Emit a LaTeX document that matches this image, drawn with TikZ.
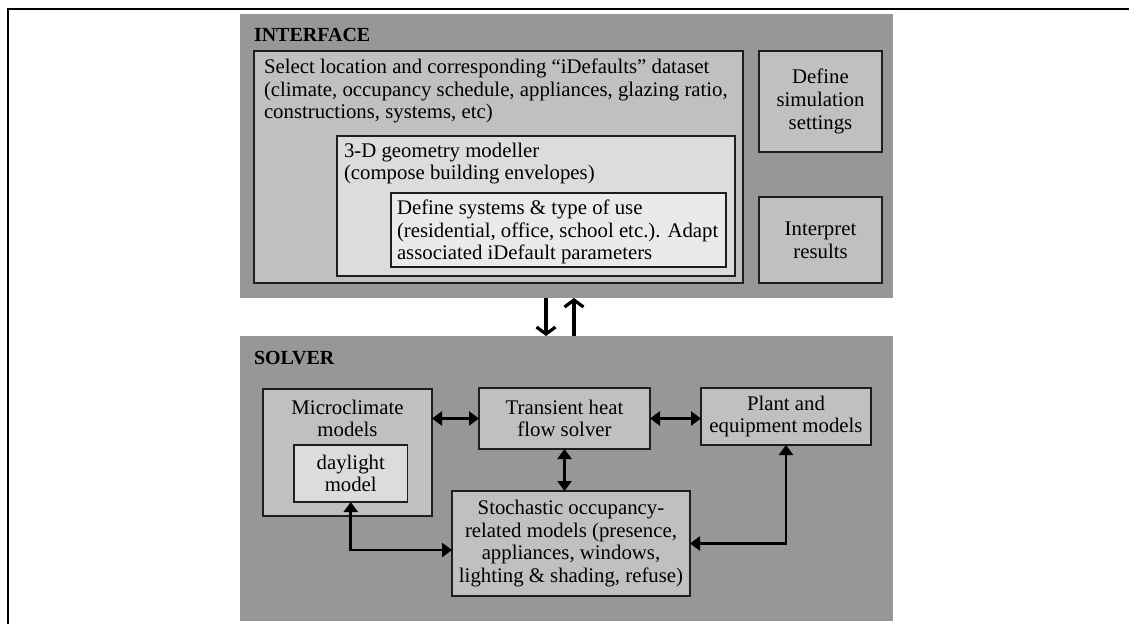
\documentclass[tikz,border=0pt]{standalone}
\usepackage{fontspec}
\setmainfont{Liberation Serif}
\usetikzlibrary{arrows.meta}

\definecolor{panelgray}{HTML}{979797}
\definecolor{boxgray}{HTML}{C0C0C0}
\definecolor{lightgray}{HTML}{DCDCDC}
\definecolor{palegray}{HTML}{EAEAEA}
\definecolor{boxline}{HTML}{1E1E1E}

\begin{document}
\begin{tikzpicture}[x=1pt,y=-1pt]
    \tikzset{
        every node/.style={font=\fontsize{20.8}{22.7}\selectfont, inner sep=0pt, outer sep=0pt},
        panel/.style={fill=panelgray, minimum width=653pt, anchor=north west},
        paneltitle/.style={anchor=base west, font=\fontsize{20}{22}\selectfont\bfseries},
        mybox/.style={draw=boxline, line width=1.1pt, fill=boxgray, align=center},
        boxtext/.style={anchor=north west, align=left},
        link/.style={line width=2.8pt, {Triangle[length=10pt,width=14pt]}-{Triangle[length=10pt,width=14pt]}},
        flow/.style={line width=3.2pt, -{Straight Barb[length=7pt,width=19pt]}},
    }
    \useasboundingbox (0,0) rectangle (1129,624);

    % Frame
    \draw[line width=2.6pt] (8,624) -- (8,9) -- (1129,9);

    % Panels
    \node[panel, minimum height=284pt] (iface) at (240,14) {};
    \node[paneltitle] (ifacetitle) at (254,41) {INTERFACE};
    \node[panel, minimum height=285pt] (solver) at (240,336) {};
    \node[paneltitle] (solvertitle) at (254,364) {SOLVER};

    % Interface boxes
    \node[mybox, anchor=north west, minimum width=489pt, minimum height=232pt] (select) at (254,51) {};
    \node[boxtext] (selecttxt) at (264,58.8) {Select location and corresponding “iDefaults” dataset\\(climate, occupancy schedule, appliances, glazing ratio,\\constructions, systems, etc)};
    \node[mybox, fill=lightgray, anchor=north west, minimum width=398pt, minimum height=140pt] (geom) at (337,136) {};
    \node[boxtext] (geomtxt) at (344,142.8) {3-D geometry modeller\\(compose building envelopes)};
    \node[mybox, fill=palegray, anchor=north west, minimum width=335pt, minimum height=74pt] (usetype) at (391,193) {};
    \node[boxtext] (usetypetxt) at (397,199.8) {Define systems \& type of use\\(residential, office, school etc.). Adapt\\associated iDefault parameters};
    \node[mybox, minimum width=123pt, minimum height=101pt] (simset) at (820.5,101.5) {Define\\simulation\\settings};
    \node[mybox, minimum width=123pt, minimum height=86pt] (interp) at (820.5,240) {Interpret\\results};

    % Solver boxes
    \node[mybox, anchor=north west, minimum width=169pt, minimum height=127pt] (micro) at (263,389) {};
    \node[anchor=north, align=center] (microtxt) at (347.5,399.8) {Microclimate\\models};
    \node[mybox, fill=lightgray, minimum width=113.5pt, minimum height=57pt] (daylight) at (350.75,473.5) {daylight\\model};
    \node[mybox, line width=2.5pt, minimum width=171pt, minimum height=61pt] (trans) at (564.5,418.5) {Transient heat\\flow solver};
    \node[mybox, minimum width=170pt, minimum height=57pt] (plant) at (786,416.5) {Plant and\\equipment models};
    \node[mybox, minimum width=238pt, minimum height=105pt] (stoch) at (571,543.5) {Stochastic occupancy-\\related models (presence,\\appliances, windows,\\lighting \& shading, refuse)};

    % Links
    \draw[flow] ([xshift=-20.5pt]iface.south) -- ([xshift=-20.5pt]solver.north);
    \draw[flow] ([xshift=7.5pt]solver.north) -- ([xshift=7.5pt]iface.south);
    \draw[link] (micro.east |- trans.west) -- (trans.west);
    \draw[link] (trans.east) -- (trans.east -| plant.west);
    \draw[link] (trans.south) -- (trans.south |- stoch.north);
    \draw[link] (daylight.south) |- ([yshift=-6.5pt]stoch.west);
    \draw[link] (plant.south) |- (stoch.east);

\end{tikzpicture}
\end{document}
